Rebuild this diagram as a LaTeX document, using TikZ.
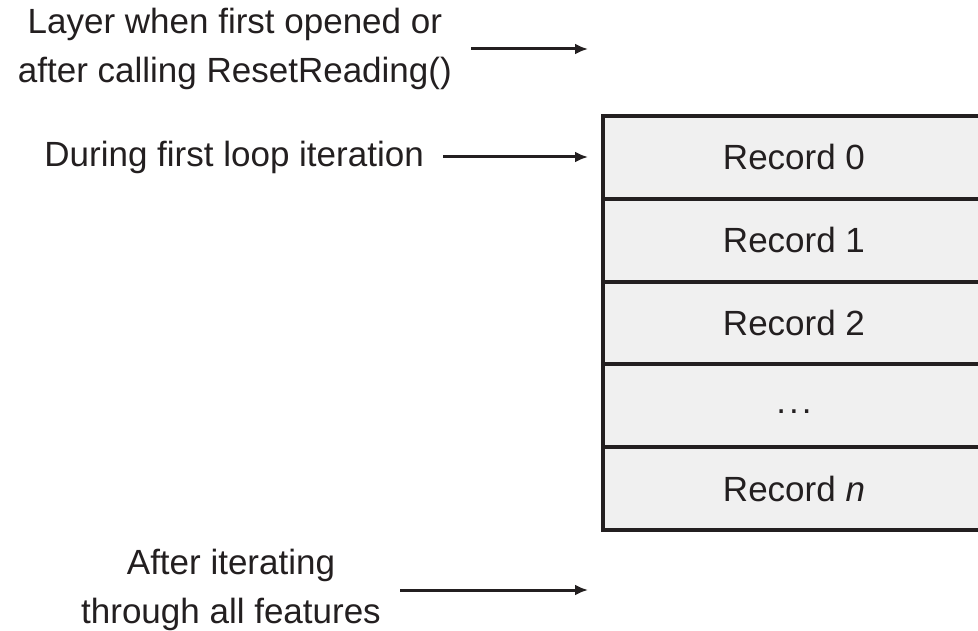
\documentclass[tikz,border=0pt]{standalone}
\usepackage{fontspec}
\setmainfont{Liberation Sans}
\usepackage{xcolor}
\usepackage{tikz}
\usetikzlibrary{arrows.meta}
\definecolor{ink}{HTML}{231F20}
\definecolor{cellgray}{HTML}{F0F0F0}

\begin{document}
\begin{tikzpicture}[x=1pt,y=-1pt,font=\fontsize{35}{49}\selectfont,text=ink,
  record/.style={draw=ink,fill=cellgray,line width=4pt,minimum width=382pt,
    minimum height=82.8pt,inner sep=0pt,outer sep=0pt},
  note/.style={align=center,inner xsep=19pt,inner ysep=0pt,anchor=east},
  ptr/.style={draw=ink,line width=3pt,-{Latex[length=13pt,width=11pt]}}]
\useasboundingbox (0,0) rectangle (978,631);
% the layer as a stack of records
\node[record] (r0) at (794,157.4) {Record 0};
\node[record] (r1) at (794,240.2) {Record 1};
\node[record] (r2) at (794,323) {Record 2};
\node[record,text height=15pt] (r3) at (794,405.8) {.\kern3pt.\kern3pt.};
\node[record] (rn) at (794,488.6) {Record \textit{n}};
% where the read pointer sits
\coordinate (ptr1) at (588,49);
\coordinate (ptr2) at (588,157);
\coordinate (ptr3) at (588,590);
\node[note] (opened) at (471,49) {Layer when first opened or\\after calling ResetReading()};
\node[note] (during) at (443,157) {During first loop iteration};
\node[note] (after) at (400,590) {After iterating\\through all features};
\draw[ptr] (opened) -- (ptr1);
\draw[ptr] (during) -- (ptr2);
\draw[ptr] (after) -- (ptr3);
\end{tikzpicture}
\end{document}
